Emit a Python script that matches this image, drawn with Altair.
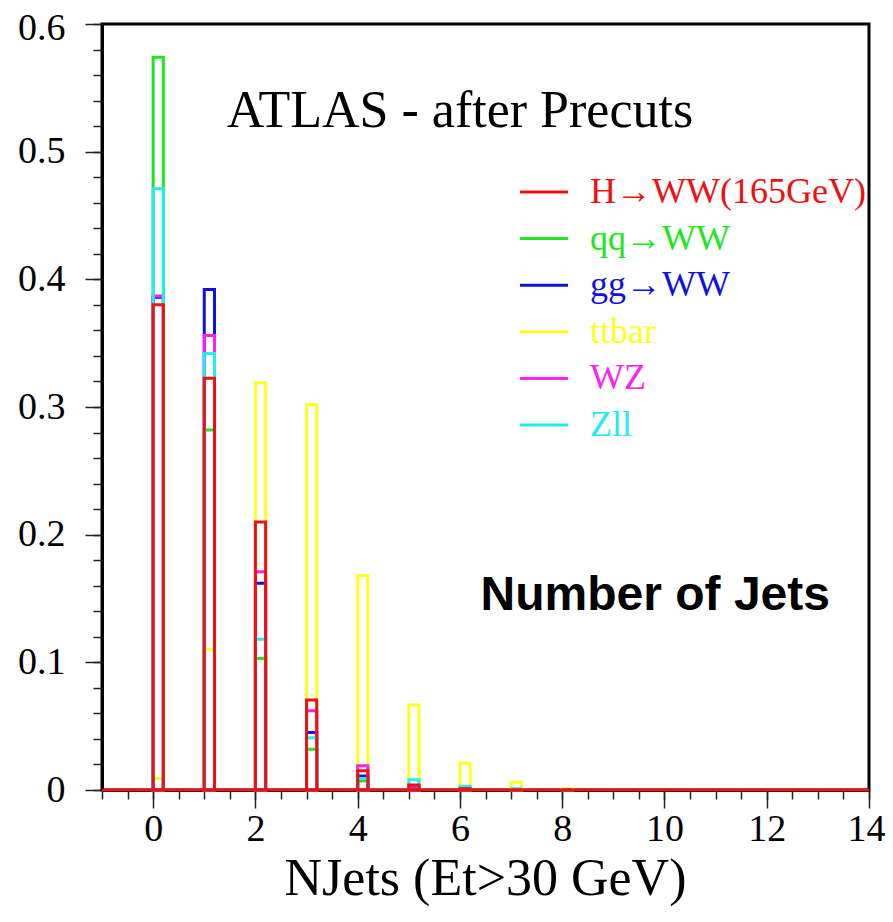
import altair as alt
import numpy as np
import pandas as pd

# bin lower edges (NJets) and normalised fractions per sample
bins = [0, 1, 2, 3, 4, 5, 6, 7, 8]
h_ww = [0.380, 0.3226, 0.210, 0.0705, 0.015, 0.004, 0.001, 0.0, 0.0]
qq_ww = [0.574, 0.282, 0.103, 0.032, 0.007, 0.002, 0.0, 0.0, 0.0]
gg_ww = [0.386, 0.392, 0.162, 0.045, 0.011, 0.002, 0.0, 0.0, 0.0]
ttbar = [0.009, 0.110, 0.319, 0.302, 0.168, 0.0666, 0.021, 0.006, 0.001]
wz = [0.387, 0.356, 0.171, 0.062, 0.019, 0.003, 0.001, 0.0, 0.0]
zll = [0.471, 0.342, 0.118, 0.041, 0.009, 0.008, 0.003, 0.001, 0.0]

series = ["H→WW(165GeV)", "qq→WW", "gg→WW", "ttbar", "WZ", "Zll"]
colors = ["#ee1111", "#22e622", "#1111dd", "#ffff22", "#ff22ee", "#22eeee"]
values = [h_ww, qq_ww, gg_ww, ttbar, wz, zll]
# ROOT drew them one after the other, the Higgs last
draw_order = ["ttbar", "qq→WW", "gg→WW", "WZ", "Zll", "H→WW(165GeV)"]
bin_width = 0.2

serif = "Liberation Serif"

rows = []
for name, vals in zip(series, values):
    for b, v in zip(bins, vals):
        rows.append({"series": name, "lo": b, "hi": b + bin_width,
                     "zero": 0.0, "value": v, "rank": draw_order.index(name)})
hist = pd.DataFrame(rows).sort_values("rank")

color_scale = alt.Scale(domain=series, range=colors)
x_scale = alt.Scale(domain=[-1, 14], nice=False, zero=False)
y_scale = alt.Scale(domain=[0, 0.6], nice=False, zero=True)

x_major = list(range(0, 15, 2))
x_minor = [round(v, 2) for v in np.arange(-1, 14.01, 0.5)]
y_major = [round(v, 1) for v in np.arange(0, 0.61, 0.1)]
y_minor = [round(v, 2) for v in np.arange(0, 0.601, 0.02)]

tick_style = dict(tickColor="#222", tickWidth=1.5, grid=False)

x_axis = alt.Axis(
    values=x_major, orient="bottom", tickSize=18,
    labelFont=serif, labelFontSize=38, labelColor="black", labelPadding=2,
    labelFlush=1, labelFlushOffset=16, labelOverlap=False,
    domainColor="black", domainWidth=3,
    title="NJets (Et>30 GeV)", titleFont=serif, titleFontSize=52,
    titleFontWeight="normal", titleColor="black",
    titleX=383, titleY=104, titleAlign="center", titleBaseline="alphabetic",
    **tick_style,
)
y_axis = alt.Axis(
    values=y_major, orient="left", tickSize=17,
    labelExpr="datum.value === 0 ? '0' : format(datum.value, '.1f')",
    labelOffset={"condition": {"test": "datum.value >= 0.59", "value": 4}, "value": 0},
    labelFont=serif, labelFontSize=38, labelColor="black", labelPadding=20,
    labelOverlap=False, labelFlush=False,
    domainColor="black", domainWidth=3, title=None,
    **tick_style,
)
x_minor_axis = alt.Axis(values=x_minor, orient="bottom", tickSize=9, labels=False,
                        domain=False, title=None, **tick_style)
y_minor_axis = alt.Axis(values=y_minor, orient="left", tickSize=9, labels=False,
                        domain=False, title=None, **tick_style)

bars = alt.Chart(hist).mark_rect(fillOpacity=0, strokeWidth=3).encode(
    x=alt.X("lo:Q", scale=x_scale, axis=x_axis),
    x2="hi:Q",
    y=alt.Y("zero:Q", scale=y_scale, axis=y_axis),
    y2="value:Q",
    stroke=alt.Color("series:N", scale=color_scale, legend=None),
    order=alt.Order("rank:Q"),
)

# empty bins of the Higgs histogram: red line along zero
baseline = alt.Chart(pd.DataFrame({"a": [-1], "b": [14], "y": [0.0]})).mark_rule(
    color="#ee1111", strokeWidth=3
).encode(
    x=alt.X("a:Q", scale=x_scale, axis=x_minor_axis),
    x2="b:Q",
    y=alt.Y("y:Q", scale=y_scale, axis=y_minor_axis),
)

notes = pd.DataFrame({
    "x": [6.0, 9.82],
    "y": [0.519, 0.141],
    "text": ["ATLAS - after Precuts", "Number of Jets"],
})
title_text = alt.Chart(notes.iloc[[0]]).mark_text(
    font=serif, fontSize=52, align="center", baseline="alphabetic", color="black"
).encode(x=alt.X("x:Q", scale=x_scale, axis=None),
         y=alt.Y("y:Q", scale=y_scale, axis=None), text="text:N")
jets_text = alt.Chart(notes.iloc[[1]]).mark_text(
    font="Liberation Sans", fontSize=48, fontWeight="bold", align="center",
    baseline="alphabetic", color="black"
).encode(x=alt.X("x:Q", scale=x_scale, axis=None),
         y=alt.Y("y:Q", scale=y_scale, axis=None), text="text:N")

main = alt.layer(bars, baseline, title_text, jets_text).resolve_axis(
    x="independent", y="independent")

leg = pd.DataFrame({"series": series, "idx": list(range(len(series)))})
leg_y = alt.Y("idx:Q", axis=None,
              scale=alt.Scale(domain=[0, len(series) - 1], range=[168, 401],
                              nice=False, zero=False))
leg_lines = alt.Chart(leg).mark_rule(strokeWidth=3).encode(
    x=alt.value(418), x2=alt.value(466), y=leg_y,
    color=alt.Color("series:N", scale=color_scale, legend=None),
)
leg_text = alt.Chart(leg).mark_text(
    font=serif, fontSize=36, align="left", baseline="middle"
).encode(
    x=alt.value(488), y=leg_y, text="series:N",
    color=alt.Color("series:N", scale=color_scale, legend=None),
)
legend = alt.layer(leg_lines, leg_text)

chart = alt.layer(main, legend).resolve_scale(y="independent").properties(
    width=767, height=766,
    autosize=alt.AutoSizeParams(type="none"),
    padding={"left": 94, "top": 16, "right": 16, "bottom": 118},
    background="white",
).configure_view(stroke="black", strokeWidth=3)

chart.save("out.html", embed_options={"renderer": "svg", "actions": False})
